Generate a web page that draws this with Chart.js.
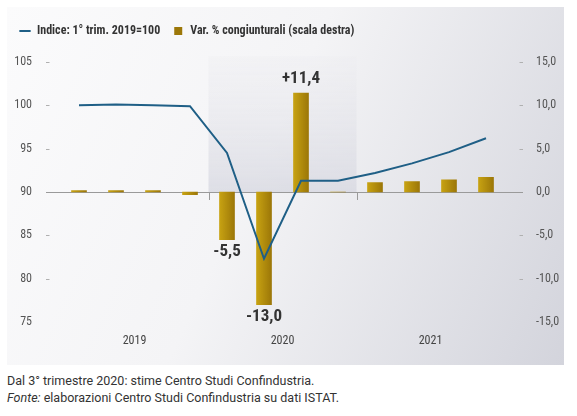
<!DOCTYPE html>
<html>
<head>
<meta charset="utf-8">
<script src="https://cdn.jsdelivr.net/npm/chart.js@4/dist/chart.umd.min.js"></script>
<style>
  body { margin: 0; background: #ffffff; width: 577px; height: 416px; position: relative; overflow: hidden; }
  #panel {
    position: absolute; left: 7px; top: 7px; width: 557px; height: 358px;
    background: linear-gradient(115deg, #fbfbfc 0%, #f4f4f6 45%, #d3d4dc 100%);
  }
  .note { position: absolute; left: 7px; font-family: Roboto, sans-serif; font-size: 12.5px; color: #333; white-space: nowrap; }
</style>
</head>
<body>
<div id="panel"><canvas id="myChart" width="557" height="358"></canvas></div>
<div class="note" style="top:373px">Dal 3° trimestre 2020: stime Centro Studi Confindustria.</div>
<div class="note" style="top:390px"><i>Fonte:</i> elaborazioni Centro Studi Confindustria su dati ISTAT.</div>
<script>
var quarters = ["I 2019", "II 2019", "III 2019", "IV 2019", "I 2020", "II 2020", "III 2020", "IV 2020", "I 2021", "II 2021", "III 2021", "IV 2021"];
var yearLabels = ["", "2019", "", "", "", "2020", "", "", "", "2021", "", ""];
var indexValues = [100.0, 100.1, 100.0, 99.9, 94.5, 82.3, 91.3, 91.3, 92.2, 93.3, 94.6, 96.2];
var varValues = [0.15, 0.15, 0.15, -0.3, -5.5, -13.0, 11.4, 0.0, 1.1, 1.2, 1.4, 1.7];
var barLabels = ["", "", "", "", "-5,5", "-13,0", "+11,4", "", "", "", "", ""];

var condensed = "'Roboto Condensed', 'Liberation Sans Narrow', 'DejaVu Sans Condensed', Roboto, sans-serif";

// legenda piu' alta per spingere giu' l'area del grafico
var legendSpace = {
    id: "legendSpace",
    afterInit: function (chart) {
        var lg = chart.legend;
        if (!lg) return;
        var fit = lg.fit;
        lg.fit = function () {
            fit.call(this);
            this.height += 15;
        };
    }
};

// fascia grigia 2020, linea dello zero, trattini degli assi
var decorPlugin = {
    id: "decor",
    beforeDatasetsDraw: function (chart) {
        var c = chart.ctx;
        var area = chart.chartArea;
        var x = chart.scales.x, yl = chart.scales.y, yr = chart.scales.y1;
        var step = x.width / quarters.length;
        var y0 = yl.getPixelForValue(90);

        var xa = x.getPixelForValue(4) - step / 2;
        var xb = x.getPixelForValue(7) + step / 2;
        var g = c.createLinearGradient(0, area.top - 6, 0, y0);
        g.addColorStop(0, "rgba(236,236,240,0.3)");
        g.addColorStop(1, "rgba(214,215,224,0.75)");
        c.fillStyle = g;
        c.fillRect(xa, area.top - 6, xb - xa, y0 - area.top + 6);

        c.save();
        c.strokeStyle = "#9a9a9a";
        c.lineWidth = 1;
        c.beginPath();
        c.moveTo(area.left - 14.5, Math.round(y0) + 0.5);
        c.lineTo(area.right + 18.5, Math.round(y0) + 0.5);
        [xa, xb].forEach(function (px) {
            c.moveTo(Math.round(px) + 0.5, y0);
            c.lineTo(Math.round(px) + 0.5, y0 + 8);
        });
        c.stroke();

        c.strokeStyle = "#b0b0b0";
        c.beginPath();
        [80, 85, 95, 100, 105].forEach(function (v) {
            var py = Math.round(yl.getPixelForValue(v)) + 0.5;
            c.moveTo(area.left - 14.5, py);
            c.lineTo(area.left - 11, py);
        });
        [-10, -5, 5, 10, 15].forEach(function (v) {
            var py = Math.round(yr.getPixelForValue(v)) + 0.5;
            c.moveTo(area.right + 15, py);
            c.lineTo(area.right + 18.5, py);
        });
        c.stroke();
        c.restore();
    },
    afterDatasetsDraw: function (chart) {
        var c = chart.ctx;
        c.save();
        c.font = "bold 17px " + condensed;
        c.fillStyle = "#333333";
        c.textAlign = "center";
        c.textBaseline = "middle";
        chart.getDatasetMeta(1).data.forEach(function (bar, i) {
            if (!barLabels[i]) return;
            var up = varValues[i] >= 0;
            var py = up ? bar.y - 14 : bar.y + 12;
            c.fillText(barLabels[i], bar.x, py);
        });
        c.restore();
    }
};

function barFill(c) {
    var chart = c.chart;
    var xs = chart.scales.x;
    if (!xs || !chart.chartArea || c.dataIndex === undefined) return "#b38e0d";
    var px = xs.getPixelForValue(c.dataIndex);
    var g = chart.ctx.createLinearGradient(px - 7.5, 0, px + 7.5, 0);
    g.addColorStop(0, "#c7a212");
    g.addColorStop(1, "#9c7708");
    return g;
}

var ctx = document.getElementById("myChart");
var chart = new Chart(ctx, {
    type: "bar",
    data: {
        labels: quarters,
        datasets: [{
            type: "line",
            label: "Indice: 1° trim. 2019=100",
            data: indexValues,
            yAxisID: "y",
            borderColor: "#1f5f86",
            backgroundColor: "#1f5f86",
            borderWidth: 2,
            pointRadius: 0,
            tension: 0,
            pointStyle: "line",
            order: 0
        }, {
            label: "Var. % congiunturali (scala destra)",
            data: varValues,
            yAxisID: "y1",
            backgroundColor: barFill,
            barThickness: 15,
            pointStyle: "rect",
            order: 1
        }]
    },
    options: {
        responsive: false,
        animation: false,
        layout: { padding: { top: 6 } },
        plugins: {
            tooltip: { enabled: false },
            legend: {
                position: "top",
                align: "start",
                labels: {
                    usePointStyle: true,
                    boxHeight: 8,
                    padding: 12,
                    color: "#333333",
                    font: { family: condensed, size: 12, weight: "bold" }
                }
            }
        },
        scales: {
            x: {
                grid: { display: false },
                border: { display: false },
                ticks: {
                    autoSkip: false,
                    maxRotation: 0,
                    padding: 4,
                    labelOffset: 18.5,
                    color: "#444444",
                    font: { family: condensed, size: 12 },
                    callback: function (v, i) { return yearLabels[i]; }
                },
                afterFit: function (s) { s.height = 43; }
            },
            y: {
                position: "left",
                min: 75, max: 105,
                grid: { display: false },
                border: { display: false },
                ticks: {
                    stepSize: 5,
                    padding: 20.5,
                    color: "#555555",
                    font: { family: condensed, size: 12 }
                },
                afterFit: function (s) { s.width = 53.5; }
            },
            y1: {
                position: "right",
                min: -15, max: 15,
                grid: { display: false },
                border: { display: false },
                ticks: {
                    stepSize: 5,
                    padding: 23.5,
                    color: "#555555",
                    font: { family: condensed, size: 12 },
                    callback: function (v) { return v.toFixed(1).replace(".", ","); }
                },
                afterFit: function (s) { s.width = 59.5; }
            }
        }
    },
    plugins: [legendSpace, decorPlugin]
});
</script>
</body>
</html>
